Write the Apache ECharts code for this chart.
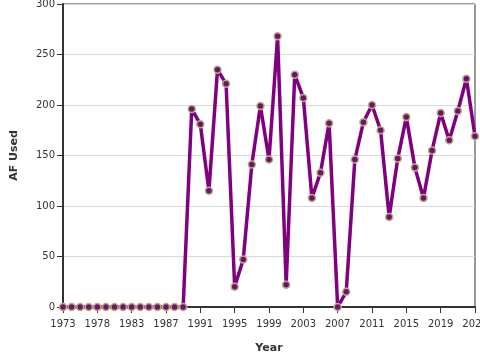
<!DOCTYPE html>
<html>
<head>
<meta charset="utf-8">
<script src="https://cdn.jsdelivr.net/npm/echarts@6/dist/echarts.min.js"></script>
<style>
  html, body { margin: 0; padding: 0; background: #fff; }
  #chart { width: 480px; height: 360px; }
</style>
</head>
<body>
<div id="chart"></div>
<script>
// years (1977 and 1982 not in the record)
var years = ['1973', '1974', '1975', '1976', '1978', '1979', '1980', '1981',
  '1983', '1984', '1985', '1986', '1987', '1988', '1989', '1990', '1991',
  '1992', '1993', '1994', '1995', '1996', '1997', '1998', '1999', '2000',
  '2001', '2002', '2003', '2004', '2005', '2006', '2007', '2008', '2009',
  '2010', '2011', '2012', '2013', '2014', '2015', '2016', '2017', '2018',
  '2019', '2020', '2021', '2022', '2023'];

var afUsed = [0, 0, 0, 0, 0, 0, 0, 0, 0, 0, 0, 0, 0, 0, 0,
  196, 181, 115, 235, 221, 20, 47, 141, 199, 146, 268, 22, 230, 207, 108,
  133, 182, 0, 15, 146, 183, 200, 175, 89, 147, 188, 138, 108, 155, 192,
  165, 194, 226, 169];

var yTicks = [0, 50, 100, 150, 200, 250, 300];

var chart = echarts.init(document.getElementById('chart'));
var font = 'DejaVu Sans';

chart.setOption({
  animation: false,
  grid: {
    left: 63, right: 5, top: 4, bottom: 53,
    outerBoundsMode: 'none',
    containLabel: false,
    show: true, borderColor: '#333', borderWidth: 1
  },
  xAxis: {
    type: 'category',
    data: years,
    boundaryGap: false,
    name: 'Year',
    nameLocation: 'middle',
    nameGap: 36,
    nameTextStyle: { fontFamily: font, fontSize: 11, fontWeight: 'bold', color: '#333' },
    axisLine: { lineStyle: { color: '#333', width: 2 } },
    axisTick: { interval: 3, length: 6, lineStyle: { color: '#333' } },
    axisLabel: { interval: 3, fontFamily: font, fontSize: 10, color: '#333', margin: 12 },
    splitLine: { show: false }
  },
  yAxis: {
    type: 'value',
    min: yTicks[0],
    max: yTicks[yTicks.length - 1],
    interval: 50,
    name: 'AF Used',
    nameLocation: 'middle',
    nameGap: 43,
    nameTextStyle: { fontFamily: font, fontSize: 11, fontWeight: 'bold', color: '#333' },
    axisLine: { show: true, lineStyle: { color: '#333', width: 2 } },
    axisTick: { show: true, length: 6, lineStyle: { color: '#333' } },
    axisLabel: { fontFamily: font, fontSize: 10, color: '#333', margin: 8 },
    splitLine: { lineStyle: { color: '#d9d9d9' } }
  },
  series: [{
    type: 'line',
    data: afUsed,
    symbol: 'circle',
    symbolSize: 7,
    showAllSymbol: true,
    lineStyle: { color: '#800080', width: 3.5 },
    itemStyle: { color: '#6e1466', borderColor: '#b9ad86', borderWidth: 1.5 },
    clip: false
  }]
});
</script>
</body>
</html>
